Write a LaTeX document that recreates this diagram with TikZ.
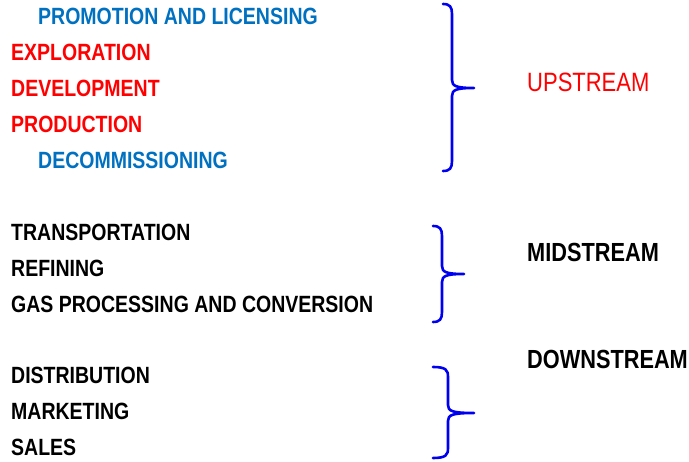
\documentclass[tikz,border=0pt]{standalone}
\usepackage{fontspec}
\setmainfont{Liberation Sans}[FakeStretch=0.83]
\definecolor{itemblue}{HTML}{0070C0}
\definecolor{bracecol}{HTML}{0000F0}
\tikzset{
  label/.style={anchor=base west, inner sep=0pt, font=\fontsize{23.5}{26}\selectfont\bfseries},
  stage/.style={anchor=base west, inner sep=0pt, font=\fontsize{26.2}{29}\selectfont\bfseries},
  curly/.style={draw=bracecol, line width=2.6pt, line cap=round, line join=round}
}
\begin{document}
\begin{tikzpicture}[x=1pt, y=-1pt]
	% 设置画布大小
	\useasboundingbox (0,0) rectangle (689,462);
	% 设置括号的画法: 左端x, 竖线x, 尖端x, 上端y, 尖端y, 下端y
	\def\drawbrace#1#2#3#4#5#6{
		\draw[curly] (#1,#4) .. controls (#2-2,#4) and (#2,#4+3) .. (#2,#4+10)
			-- (#2,#5-8) .. controls (#2,#5-2) and (#2+4,#5) .. (#3,#5)
			.. controls (#2+4,#5) and (#2,#5+2) .. (#2,#5+8)
			-- (#2,#6-10) .. controls (#2,#6-3) and (#2-2,#6) .. (#1,#6);
	}

	% 上游环节
	\node[label, text=itemblue] (promo) at (38,25) {PROMOTION AND LICENSING};
	\node[label, text=red] (explo) at (11,61) {EXPLORATION};
	\node[label, text=red] (devel) at (11,97) {DEVELOPMENT};
	\node[label, text=red] (prod) at (11,133) {PRODUCTION};
	\node[label, text=itemblue] (decom) at (38,169) {DECOMMISSIONING};
	\drawbrace{443}{452}{474}{4}{88}{171}
	\node[stage, text=red, font=\fontsize{26.5}{29}\selectfont\mdseries] (up) at (527,92) {UPSTREAM};

	% 中游环节
	\node[label] (trans) at (11,241) {TRANSPORTATION};
	\node[label] (refin) at (11,277) {REFINING};
	\node[label] (gasproc) at (11,313) {GAS PROCESSING AND CONVERSION};
	\drawbrace{433}{442}{464}{226}{274}{322}
	\node[stage] (mid) at (527,262) {MIDSTREAM};

	% 下游环节
	\node[label] (distr) at (11,384) {DISTRIBUTION};
	\node[label] (market) at (11,420) {MARKETING};
	\node[label] (sales) at (11,456) {SALES};
	\drawbrace{433}{448}{474}{367}{413}{458}
	\node[stage] (down) at (527,369) {DOWNSTREAM};
\end{tikzpicture}
\end{document}
